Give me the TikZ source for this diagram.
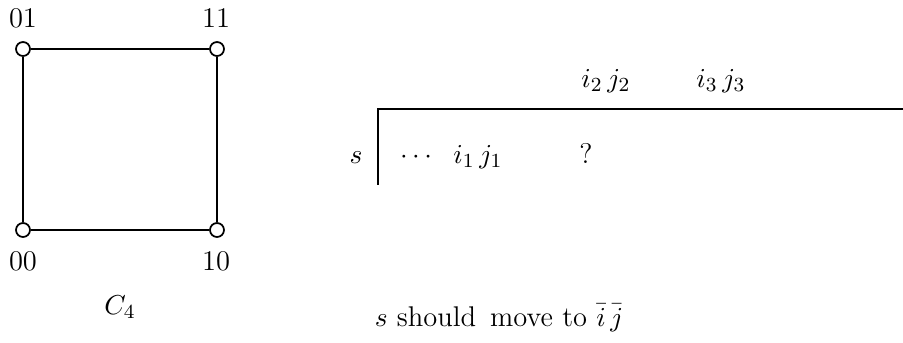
\documentclass[tikz,border=0pt]{standalone}
\begin{document}
\begin{tikzpicture}[x=0.4pt,y=-0.4pt,
  every node/.style={font=\fontsize{11.4pt}{13pt}\selectfont},
  vert/.style={circle,draw,fill=white,line width=0.7pt,minimum size=5.6pt,inner sep=0pt},
  edge/.style={line width=0.7pt},
  lbl/.style={anchor=base,inner sep=0pt},
  rule/.style={line width=0.7pt}]
\useasboundingbox (0,0) rectangle (903,342);
% C4 graph
\node[vert] (v01) at (23,49) {};
\node[vert] (v11) at (217,49) {};
\node[vert] (v00) at (23,230) {};
\node[vert] (v10) at (217,230) {};
\draw[edge] (v01) -- (v11);
\draw[edge] (v11) -- (v10);
\draw[edge] (v10) -- (v00);
\draw[edge] (v00) -- (v01);
\node[lbl] (l01) at (23,27) {01};
\node[lbl] (l11) at (216,27) {11};
\node[lbl] (l00) at (23,270) {00};
\node[lbl] (l10) at (216,270) {10};
\node[lbl] (c4) at (120,314) {$C_4$};
% table
\coordinate (corner) at (378,109);
\coordinate (hend) at (903,109);
\coordinate (vend) at (378,185);
\draw[rule] (hend) -- (corner) -- (vend);
\node[lbl] (s) at (356,163) {$s$};
\node[lbl] (dots) at (416,163) {$\cdots$};
\node[lbl] (ij1) at (478,163) {$i_1\,j_1$};
\node[lbl] (q) at (586,163) {?};
\node[lbl] (ij2) at (606,87) {$i_2\,j_2$};
\node[lbl] (ij3) at (721,87) {$i_3\,j_3$};
\node[lbl] (note) at (499,326) {$s$ should\, move to $\bar{i}\,\bar{j}$};
\end{tikzpicture}
\end{document}
